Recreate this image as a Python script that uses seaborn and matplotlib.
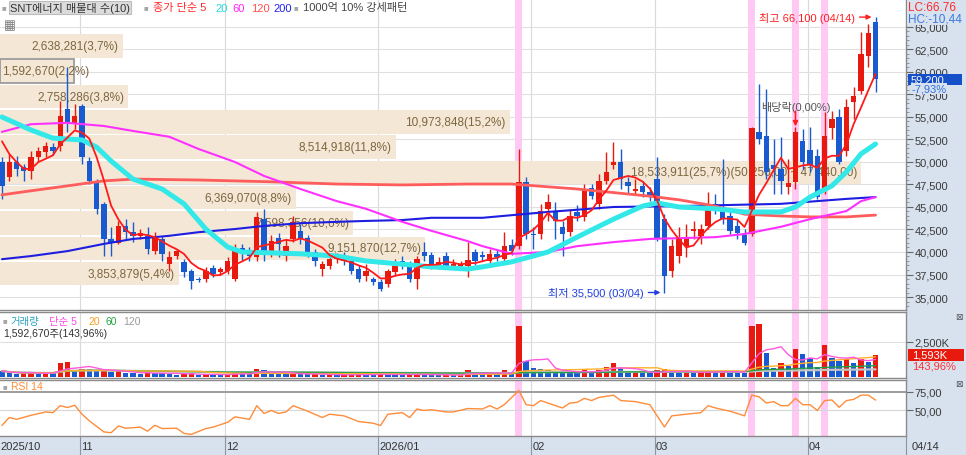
import numpy as np
import pandas as pd
import matplotlib
matplotlib.use("Agg")
import matplotlib.pyplot as plt
import matplotlib.transforms as mtransforms
from matplotlib.patches import Rectangle
from matplotlib.lines import Line2D
from matplotlib.ticker import MultipleLocator
import seaborn as sns

# ---------------- data ----------------
month_labels = ["2025/10", "11", "12", "2026/01", "02", "03", "04"]
month_idx = [0, 11, 31, 52, 73, 90, 111]
last_date_label = "04/14"

opens = [50000,48350,50000,49450,49000,50550,51100,51650,51800,55900,
         54350,56200,50100,47900,45350,41450,41000,42900,42200,41800,
         41800,40100,41450,38650,39550,38900,37900,37000,37000,38200,
         37800,37900,37000,40450,40100,39450,43650,40100,41550,39550,
         41450,42350,41550,40000,38100,38450,39200,39550,39000,38100,
         37350,37000,36650,36450,37800,39000,38450,37000,40000,39650,
         38350,39550,38350,38450,38450,40000,39650,39000,39800,39200,
         40800,40650,47800,42000,42000,44800,44550,42800,42200,44450,
         43900,47100,45350,47900,49650,50000,47800,46800,47350,46650,
         48100,43650,37900,39550,40650,42350,41800,42900,45350,44800,
         44000,42900,41900,42000,53350,52900,49650,49200,47200,47800,
         52350,51350,50650,46800,53800,55000,51200,56650,57900,61800,
         65550]
highs = [50550,50900,50650,49800,51200,51650,52200,52100,56800,60550,
         56450,56450,50550,48100,45550,42800,43450,43650,43350,42550,
         42800,42200,41800,40100,40350,39200,38100,37200,38350,38550,
         38350,39450,40900,40900,40550,44450,44800,41900,42100,41450,
         44000,43100,41900,40350,39000,39800,39900,40000,39450,38550,
         38650,37250,37000,38100,39200,39550,39000,39550,41100,40000,
         39450,40000,39200,39000,41100,40350,40100,40350,40350,42200,
         41450,51450,48350,42800,45350,46450,45550,43450,44800,45250,
         47550,47550,48650,51100,52200,51450,48350,48100,47900,47200,
         50550,44200,41450,42800,43100,43450,43100,46650,46450,50350,
         44800,43650,42550,53900,58650,58100,52550,52800,50350,53900,
         53650,53900,51450,55550,55650,55900,57000,58350,64450,65350,
         66100]
lows = [45900,47900,48450,47900,48100,50000,50550,50800,51200,53350,
        53650,49800,47550,44200,39550,39550,40900,41450,41100,41450,
        39800,39800,39000,37900,39200,37200,35900,36650,36650,37200,
        37450,37550,36800,39000,39000,39000,39000,39450,39450,39000,
        41100,40900,39450,38450,37350,38100,38800,38550,37550,36650,
        36800,36350,35650,36100,37350,38100,36650,35900,39000,38100,
        38100,38100,38100,38100,37200,38550,39000,38550,39000,38900,
        39650,40350,41450,40350,41450,43450,41450,39550,41800,43450,
        43450,45900,44800,47550,49200,47000,46450,46450,46100,45650,
        41200,35500,37200,38800,39450,41450,40900,42550,44200,43100,
        42000,41450,40800,41800,52000,48100,46450,46450,46450,47000,
        49200,48900,45900,46450,52550,49800,50650,54800,57550,60550,
        57800]
closes = [47350,50000,49200,49000,50550,51200,51800,51200,55100,54350,
          55100,50550,47900,44800,41450,41000,42900,42200,41800,42100,
          40350,41800,39800,39450,40100,37800,36800,36900,37900,37550,
          38100,39000,40350,39800,39550,43900,40100,41200,40900,40650,
          43350,41450,40000,39000,38650,39200,39450,39000,37900,37000,
          37900,36650,35900,37900,38450,38650,37000,39200,39550,38450,
          38900,38450,38650,38650,39100,39000,39450,39800,39450,40650,
          40100,47800,42000,41900,44550,45550,43450,42000,44000,44000,
          47000,46200,47900,48900,50000,48100,47350,47000,46650,46100,
          41450,37350,40650,41450,41650,42550,42550,45100,44800,43650,
          42350,42100,41000,53800,52550,48900,49200,47900,47650,53350,
          50000,49650,46100,52900,54800,50000,56100,57350,62000,64300,
          59200]
volumes = [430000,300000,250000,280000,300000,250000,280000,260000,1020000,1100000,
           480000,600000,550000,480000,500000,350000,400000,300000,280000,200000,
           330000,300000,280000,250000,150000,220000,260000,150000,180000,160000,
           150000,200000,330000,250000,180000,600000,480000,260000,220000,200000,
           300000,220000,180000,200000,160000,170000,140000,150000,190000,200000,
           160000,150000,230000,200000,180000,140000,170000,230000,180000,150000,
           130000,160000,120000,140000,520000,300000,200000,230000,180000,480000,
           260000,3640000,1140000,620000,550000,500000,430000,350000,330000,280000,
           480000,420000,470000,740000,1020000,620000,300000,320000,280000,260000,
           480000,550000,380000,330000,350000,300000,320000,430000,380000,420000,
           350000,300000,280000,3640000,3760000,1740000,670000,1020000,790000,1980000,
           1620000,1380000,710000,2260000,1380000,1140000,1260000,1020000,1310000,1106000,
           1592670]

# first MA5 values (need closes before the window)
ma5_head = [52300, 50900, 50000, 49250]

ma20_idx = [0,4,7,11,13,15,18,22,25,28,31,33,37,41,46,50,55,59,64,66,70,75,79,84,88,90,93,98,102,107,109,111,114,116,118,120]
ma20_val = [55000,53550,52650,52450,51650,50100,48100,47000,45350,42550,40550,40000,39900,39800,39550,39000,38650,38350,38100,38350,
            38900,40000,41650,43650,45100,45450,45000,44800,44450,44450,45000,46100,47350,48900,50900,52000]
ma60_idx = [0,4,9,14,18,23,27,32,36,41,46,50,55,59,64,66,70,75,79,84,89,98,102,107,111,116,118,120]
ma60_val = [53350,54200,54350,54000,53450,52800,51450,50000,48450,47000,45650,44800,43350,42350,41200,40650,39800,40000,40650,41100,
            41450,41650,42000,42800,43650,44550,45650,46100]
ma120_idx = [0,4,9,14,18,27,37,46,55,64,70,79,89,93,98,102,107,111,116,120]
ma120_val = [46350,46800,47350,47900,48100,48000,47800,47550,47450,47550,47550,47000,46200,45800,45100,44200,44000,43900,43900,44100]
ma200_idx = [0,4,9,14,18,23,27,32,36,41,46,50,55,59,66,75,84,93,107,116,120]
ma200_val = [39200,39550,40100,40900,41450,41800,42200,42550,42900,43200,43350,43450,43550,43800,43800,44450,45000,45100,45350,45900,46100]

rsi_idx = [0,1,2,4,6,7,8,9,10,11,12,14,15,16,17,19,20,21,22,24,25,26,28,29,31,32,34,35,36,37,38,39,40,42,44,45,47,49,51,52,
           53,55,56,57,58,59,61,62,64,66,67,68,69,71,72,73,74,75,77,78,79,80,81,82,84,85,87,89,91,92,94,96,97,98,100,101,102,
           103,104,105,106,107,108,109,110,111,112,113,114,115,116,117,118,119,120]
rsi_val = [29.7,40.5,38,43.5,48,47,56.5,54,57,45,36,21,20,29,26,27.5,22,30,25.5,26,19,17.7,25.5,27.5,34,41.4,38,56.5,46,50,
           46,48,56.5,49,40.5,45,42.7,35,32.8,29.7,45,47,40.5,52,50,51,48,48,52.6,52,56.5,52,57.8,77,57.8,56.5,63.4,60,53.4,60,
           61,66.4,63.4,67.7,70.7,63.4,62,57.8,27.6,42.7,45,47,56.5,53.4,49,46,42.7,70.7,68.5,60,62,56.5,56.5,66.4,57.8,57.8,50,
           63.4,64.2,54.3,63.4,65,70.7,70.7,64]

pattern_idx = [71, 103, 109, 113]

band_vols = [2638281, 1592670, 2758286, 10973848, 8514918, 18533911, 6369070, 7598356, 9151870, 3853879]
band_pcts = ["3,7", "2,2", "3,8", "15,2", "11,8", "25,7", "8,8", "10,6", "12,7", "5,4"]
band_top = 64300
band_bottom = 36200
current_band = 1

high_price, high_idx, high_date = 66100, 120, "04/14"
low_price, low_idx, low_date = 35500, 91, "03/04"
exdiv_idx = 109
lc_text, hc_text = "LC:66,76", "HC:-10,44"
chg_text = "-7,93%"
vol_ratio_text = "143,96%"

# ---------------- style ----------------
sns.set_theme(style="white")
plt.rcParams['font.family'] = ['Liberation Sans', 'Noto Sans CJK KR', 'DejaVu Sans']
plt.rcParams['axes.unicode_minus'] = False

RED = "#e8190e"
BLUE = "#1a5ad0"
PINK = "#ffc9f4"
BEIGE = "#f5e7d5"
BROWN = "#7c6640"
STRIP = "#d8e2ee"
GRID = "#e0e0e0"
SPINE = "#8a8a8a"

W, H = 966, 456
fig = plt.figure(figsize=(W / 100, H / 100), dpi=100)
fig.patch.set_facecolor("white")

def fx(px):
    return px / W

def fy(py):
    return 1 - py / H

PLOT_R = 906
ax = fig.add_axes([0, fy(311), fx(PLOT_R), 311 / H])
axv = fig.add_axes([0, fy(379), fx(PLOT_R), (379 - 313) / H])
axr = fig.add_axes([0, fy(437), fx(PLOT_R), (437 - 381) / H])

fig.add_artist(Rectangle((fx(PLOT_R), 0), 1 - fx(PLOT_R), 1, transform=fig.transFigure,
                         facecolor=STRIP, edgecolor="none", zorder=-5))
fig.add_artist(Rectangle((0, 0), 1, 19 / H, transform=fig.transFigure,
                         facecolor=STRIP, edgecolor="none", zorder=-5))

XL = (-0.27, 124.18)
idx = np.arange(len(closes))
o = np.array(opens, float)
c = np.array(closes, float)
h = np.maximum(np.array(highs, float), np.maximum(o, c))
l = np.minimum(np.array(lows, float), np.minimum(o, c))

for a in (ax, axv, axr):
    a.set_xlim(*XL)
    a.set_facecolor("white")
    a.tick_params(axis='x', bottom=False, labelbottom=False, top=False)
    a.spines['left'].set_visible(False)
    for s in ('right', 'bottom', 'top'):
        a.spines[s].set_color(SPINE)
        a.spines[s].set_linewidth(1.0)
    for m in month_idx[1:]:
        a.axvline(m - 0.3, color="#dadada", lw=0.8, zorder=0)
    for p in pattern_idx:
        a.axvspan(p - 0.5, p + 0.5, color=PINK, lw=0, zorder=0.5)
ax.spines['top'].set_visible(False)

# ---------------- main panel ----------------
ax.set_ylim(33556, 68108)
yt = np.arange(35000, 65001, 2500)
for v in yt:
    ax.axhline(v, color=GRID, lw=0.8, zorder=0)
ax.yaxis.tick_right()
ax.set_yticks(yt)
ax.set_yticklabels([f"{v:,}" for v in yt])
ax.yaxis.set_minor_locator(MultipleLocator(500))
ax.tick_params(axis='y', which='major', right=True, left=False, length=5, width=0.8, color="#666666",
               labelsize=8, labelcolor="#3a3a3a", pad=1, direction='out')
ax.tick_params(axis='y', which='minor', right=True, left=False, length=2.5, width=0.6, color="#888888",
               direction='out')

# volume-profile bands
nb = len(band_vols)
step = (band_top - band_bottom) / nb
centers = [band_top - (k + 0.5) * step for k in range(nb)]
xspan = XL[1] - XL[0]
vmax = max(band_vols)
widths = [xspan * (861 / PLOT_R) * v / vmax for v in band_vols]
edgecols = ["#9c9c9c" if k == current_band else "none" for k in range(nb)]
lws = [1.3 if k == current_band else 0 for k in range(nb)]
ax.barh(centers, widths, height=step * 0.93, left=XL[0], color=BEIGE, edgecolor=edgecols,
        linewidth=lws, zorder=1)
vmax_k = band_vols.index(vmax)
px_per_unit = PLOT_R / xspan
for k in range(nb):
    lab = f"{band_vols[k]:,}({band_pcts[k]}%)"
    if k == vmax_k:
        hi_e = int(round(band_top - k * step))
        lo_e = int(round(band_top - (k + 1) * step))
        lab += f"({hi_e:,},00 ~ {lo_e:,},00)"
    if widths[k] * px_per_unit < 95:
        ax.text(XL[0] + 2 / px_per_unit, centers[k], lab, ha='left', va='center', fontsize=8.5,
                color=BROWN, zorder=1.5)
    else:
        ax.text(XL[0] + widths[k] - 0.55, centers[k], lab, ha='right', va='center', fontsize=8.5,
                color=BROWN, zorder=1.5)

# candles
up = c >= o
col = np.where(up, RED, BLUE)
ax.vlines(idx, l, h, colors=col, lw=1.0, zorder=2)
ax.bar(idx, np.maximum(np.abs(c - o), 80), bottom=np.minimum(o, c), width=0.74, color=col,
       linewidth=0, zorder=2.1)

# moving averages
ma5 = pd.Series(closes, dtype=float).rolling(5).mean()
ma5.iloc[:len(ma5_head)] = ma5_head
sns.lineplot(x=ma200_idx, y=ma200_val, ax=ax, color="#1e1ee0", linewidth=1.5, zorder=3)
sns.lineplot(x=ma120_idx, y=ma120_val, ax=ax, color="#ff5c5c", linewidth=2.0, zorder=3)
sns.lineplot(x=ma60_idx, y=ma60_val, ax=ax, color="#ff30ff", linewidth=1.5, zorder=3)
sns.lineplot(x=ma20_idx, y=ma20_val, ax=ax, color="#33e8e8", linewidth=3.6, zorder=3)
sns.lineplot(x=idx, y=ma5, ax=ax, color="#ff1a1a", linewidth=1.3, zorder=3.2)
ax.set_xlabel("")
ax.set_ylabel("")

# annotations
ax.annotate(f"최고 {high_price:,} ({high_date})", xy=(high_idx - 0.55, high_price),
            xytext=(-12, 0), textcoords='offset points', ha='right', va='center', fontsize=8,
            color="#ff2020", zorder=6,
            arrowprops=dict(arrowstyle='-|>', color="#ff2020", lw=1.0, mutation_scale=7,
                            shrinkA=1, shrinkB=0))
ax.annotate(f"최저 {low_price:,} ({low_date})", xy=(low_idx - 0.55, low_price),
            xytext=(-12, 0), textcoords='offset points', ha='right', va='center', fontsize=8,
            color="#1f3fe0", zorder=6,
            arrowprops=dict(arrowstyle='-|>', color="#1f3fe0", lw=1.0, mutation_scale=7,
                            shrinkA=1, shrinkB=0))
ax.text(exdiv_idx, h[exdiv_idx] + 2300, "배당락(0,00%)", ha='center', va='center', fontsize=8,
        color="#555555", zorder=6)
ax.annotate("", xy=(exdiv_idx, h[exdiv_idx] + 50), xytext=(exdiv_idx, h[exdiv_idx] + 1750),
            arrowprops=dict(arrowstyle='-|>', color="#ff2020", lw=1.2, mutation_scale=7,
                            shrinkA=0, shrinkB=0), zorder=6)

# current price box
bl = mtransforms.blended_transform_factory(fig.transFigure, ax.transData)
ax.add_patch(Rectangle((fx(908), closes[-1] - 620), fx(54), 1240, transform=bl,
                       facecolor="#1550c8", edgecolor="none", clip_on=False, zorder=10))
ax.text(fx(911), closes[-1], f"{closes[-1]:,}", transform=bl, color="white", fontsize=8,
        va='center', ha='left', clip_on=False, zorder=11)
fig.text(fx(911), fy(89.5), chg_text, color="#2f6fe0", fontsize=8, va='center', ha='left',
         bbox=dict(facecolor=STRIP, edgecolor='none', pad=0.3), zorder=12)
fig.text(fx(908), fy(7), lc_text, color="#ff2a2a", fontsize=8.5, va='center', ha='left',
         bbox=dict(facecolor=STRIP, edgecolor='none', pad=0.4), zorder=12)
fig.text(fx(908), fy(19), hc_text, color="#3a78e0", fontsize=8.5, va='center', ha='left',
         bbox=dict(facecolor=STRIP, edgecolor='none', pad=0.4), zorder=12)

# legend row
LY = fy(8.5)
sq = "#a5a5a5"
LF = 8
fig.text(fx(2), LY, "■", fontsize=5.5, color=sq, va='center')
fig.text(fx(10), LY, "SNT에너지 매물대 수(10)", fontsize=LF, color="#333333", va='center',
         bbox=dict(facecolor="#dcdcdc", edgecolor="#bdbdbd", pad=1.0, linewidth=0.8))
fig.text(fx(144), LY, "■", fontsize=5.5, color=sq, va='center')
fig.text(fx(153), LY, "종가 단순 5", fontsize=LF, color="#ff2a2a", va='center')
fig.text(fx(215), LY, "20", fontsize=LF, color="#1fdada", va='center')
fig.text(fx(232), LY, "60", fontsize=LF, color="#ff22ff", va='center')
fig.text(fx(251), LY, "120", fontsize=LF, color="#ff5050", va='center')
fig.text(fx(273), LY, "200", fontsize=LF, color="#2222ee", va='center')
fig.text(fx(294), LY, "■", fontsize=5.5, color=sq, va='center')
fig.text(fx(303), LY, "1000억 10% 강세패턴", fontsize=LF, color="#444444", va='center')
fig.text(fx(4), fy(26), "▦", fontsize=9, color="#7a7a7a", va='center', family=['DejaVu Sans'])

# ---------------- volume panel ----------------
vol = np.array(volumes, float)
prev = np.concatenate([[vol[0]], vol[:-1]])
vcol = np.where(vol >= prev, RED, BLUE)
vcol[0] = BLUE
axv.set_ylim(-71000, 4641000)
axv.axhline(2500000, color=GRID, lw=0.8, zorder=0)
axv.bar(idx, vol, width=0.74, color=vcol, linewidth=0, zorder=2)
vs = pd.Series(volumes, dtype=float)
sns.lineplot(x=idx, y=vs.rolling(120, min_periods=1).mean(), ax=axv, color="#c4c4c4", linewidth=1.6, zorder=3)
sns.lineplot(x=idx, y=vs.rolling(60, min_periods=1).mean(), ax=axv, color="#22a045", linewidth=1.0, zorder=3)
sns.lineplot(x=idx, y=vs.rolling(20, min_periods=1).mean(), ax=axv, color="#ffb028", linewidth=1.0, zorder=3)
sns.lineplot(x=idx, y=vs.rolling(5, min_periods=1).mean(), ax=axv, color="#ff5ade", linewidth=1.0, zorder=3)
axv.set_xlabel("")
axv.set_ylabel("")
axv.yaxis.tick_right()
axv.set_yticks([2500000])
axv.set_yticklabels(["2,500K"])
axv.tick_params(axis='y', right=True, left=False, length=5, width=0.8, color="#666666",
                labelsize=8, labelcolor="#3a3a3a", pad=1, direction='out')
blv = mtransforms.blended_transform_factory(fig.transFigure, axv.transData)
axv.add_patch(Rectangle((fx(908), vol[-1] - 430000), fx(56), 860000, transform=blv,
                        facecolor="#e81a0e", edgecolor="none", clip_on=False, zorder=10))
axv.text(fx(912), vol[-1], f"{int(round(vol[-1] / 1000)):,}K", transform=blv, color="white",
         fontsize=8, va='center', ha='left', clip_on=False, zorder=11)
fig.text(fx(912), fy(367), vol_ratio_text, color="#ff3030", fontsize=8, va='center', ha='left')
fig.text(fx(3), fy(322), "■", fontsize=5.5, color=sq, va='center')
fig.text(fx(10), fy(322), "거래량", fontsize=7.5, color="#2aa3bd", va='center')
fig.text(fx(49), fy(322), "단순 5", fontsize=7.5, color="#ff48e6", va='center')
fig.text(fx(88), fy(322), "20", fontsize=7.5, color="#f5a020", va='center')
fig.text(fx(106), fy(322), "60", fontsize=7.5, color="#22a045", va='center')
fig.text(fx(123), fy(322), "120", fontsize=7.5, color="#9a9a9a", va='center')
fig.text(fx(3), fy(334), f"{volumes[-1]:,}주({vol_ratio_text})", fontsize=7.5, color="#333333", va='center')
fig.text(fx(955), fy(317), "⊠", fontsize=6.5, color="#555555", va='center', family=['DejaVu Sans'])

# ---------------- RSI panel ----------------
axr.set_ylim(15.5, 91.2)
axr.axhline(75, color="#9c9c9c", lw=1.4, zorder=0.6)
axr.axhline(50, color="#d6d6d6", lw=0.8, zorder=0.6)
sns.lineplot(x=rsi_idx, y=rsi_val, ax=axr, color="#ff8c3a", linewidth=1.0, zorder=3)
axr.set_xlabel("")
axr.set_ylabel("")
axr.yaxis.tick_right()
axr.set_yticks([50, 75])
axr.set_yticklabels(["50,00", "75,00"])
axr.tick_params(axis='y', right=True, left=False, length=5, width=0.8, color="#666666",
                labelsize=8, labelcolor="#3a3a3a", pad=1, direction='out')
fig.text(fx(3), fy(387.5), "■", fontsize=5.5, color=sq, va='center')
fig.text(fx(11), fy(387.5), "RSI 14", fontsize=7.5, color="#ff8a30", va='center')
fig.text(fx(955), fy(385), "⊠", fontsize=6.5, color="#555555", va='center', family=['DejaVu Sans'])

# ---------------- date strip ----------------
blx = mtransforms.blended_transform_factory(axr.transData, fig.transFigure)
for m, lab in zip(month_idx, month_labels):
    xpos = m - 0.3
    if m > 0:
        axr.add_line(Line2D([xpos, xpos], [fy(456), fy(437)], transform=blx, color="#8c96a3",
                            lw=0.8, clip_on=False))
        tx = xpos + 0.15
    else:
        tx = -0.2
    axr.text(tx, fy(447), lab, transform=blx, ha='left', va='center', fontsize=8,
             color="#333333", clip_on=False)
fig.add_artist(Line2D([fx(PLOT_R), fx(PLOT_R)], [fy(456), fy(437)], transform=fig.transFigure,
                      color="#8c96a3", lw=0.8))
fig.text(fx(912), fy(447), last_date_label, fontsize=8, color="#333333", va='center', ha='left')

fig.savefig("out.png", dpi=100)
